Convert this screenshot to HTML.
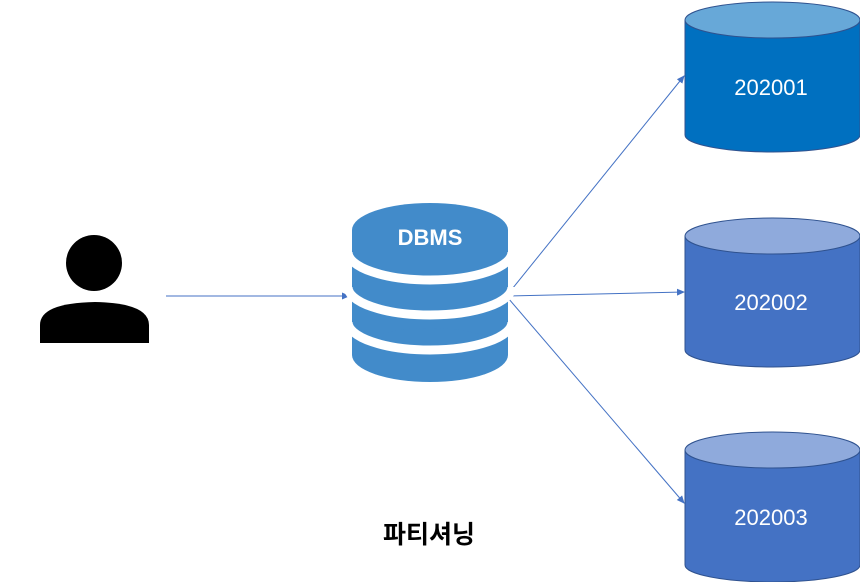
<!DOCTYPE html>
<html><head><meta charset="utf-8"><style>
html,body{margin:0;padding:0;background:#fff;width:860px;height:582px;overflow:hidden}
</style></head><body>
<svg width="860" height="582" viewBox="0 0 860 582" xmlns="http://www.w3.org/2000/svg">
<defs>
<marker id="a" markerWidth="8" markerHeight="8" refX="7" refY="4" orient="auto" markerUnits="userSpaceOnUse">
<path d="M0,0.5 L8,4 L0,7.5 z" fill="#4472C4"/></marker>
</defs>
<!-- person -->
<circle cx="94" cy="263" r="28" fill="#000"/>
<path d="M40,343 L40,325 Q40,303 95,302 Q149,303 149,325 L149,343 Z" fill="#000"/>
<!-- connectors -->
<g stroke="#4472C4" stroke-width="1" fill="none">
<line x1="166" y1="296" x2="349" y2="296" marker-end="url(#a)"/>
<line x1="508" y1="294" x2="684" y2="76" marker-end="url(#a)"/>
<line x1="508" y1="296" x2="684" y2="292" marker-end="url(#a)"/>
<line x1="508" y1="298" x2="684" y2="503" marker-end="url(#a)"/>
</g>
<!-- DBMS -->
<g fill="#428BCA">
<ellipse cx="430" cy="230" rx="78" ry="27"/>
<rect x="352" y="230" width="156" height="125"/>
<ellipse cx="430" cy="355" rx="78" ry="27"/>
</g>
<g stroke="#fff" stroke-width="9" fill="none">
<path d="M348,252 A82,28 0 0 0 512,252"/>
<path d="M348,287 A82,28 0 0 0 512,287"/>
<path d="M348,322 A82,28 0 0 0 512,322"/>
</g>
<text x="430" y="245" text-anchor="middle" font-family="Liberation Sans, sans-serif" font-weight="bold" font-size="22" fill="#fff">DBMS</text>
<!-- cylinders -->
<g>
<path d="M685,20 L685,135 A87.5,17 0 0 0 860,135 L860,20 Z" fill="#0070C0" stroke="#2F528F" stroke-width="1"/>
<ellipse cx="772.5" cy="20" rx="87.5" ry="18" fill="#67A8D8" stroke="#2F528F" stroke-width="1"/>
<text x="771" y="95" text-anchor="middle" font-family="Liberation Sans, sans-serif" font-size="22" fill="#fff">202001</text>
</g>
<g>
<path d="M685,236 L685,350 A87.5,17 0 0 0 860,350 L860,236 Z" fill="#4472C4" stroke="#2F528F" stroke-width="1"/>
<ellipse cx="772.5" cy="236" rx="87.5" ry="18" fill="#8FAADC" stroke="#2F528F" stroke-width="1"/>
<text x="771" y="310" text-anchor="middle" font-family="Liberation Sans, sans-serif" font-size="22" fill="#fff">202002</text>
</g>
<g>
<path d="M685,450 L685,565 A87.5,17 0 0 0 860,565 L860,450 Z" fill="#4472C4" stroke="#2F528F" stroke-width="1"/>
<ellipse cx="772.5" cy="450" rx="87.5" ry="18" fill="#8FAADC" stroke="#2F528F" stroke-width="1"/>
<text x="771" y="525" text-anchor="middle" font-family="Liberation Sans, sans-serif" font-size="22" fill="#fff">202003</text>
</g>
<text x="429" y="543" text-anchor="middle" font-family="Liberation Sans, 'Noto Sans CJK KR', sans-serif" font-weight="bold" font-size="25" fill="#000">파티셔닝</text>
</svg>
</body></html>
